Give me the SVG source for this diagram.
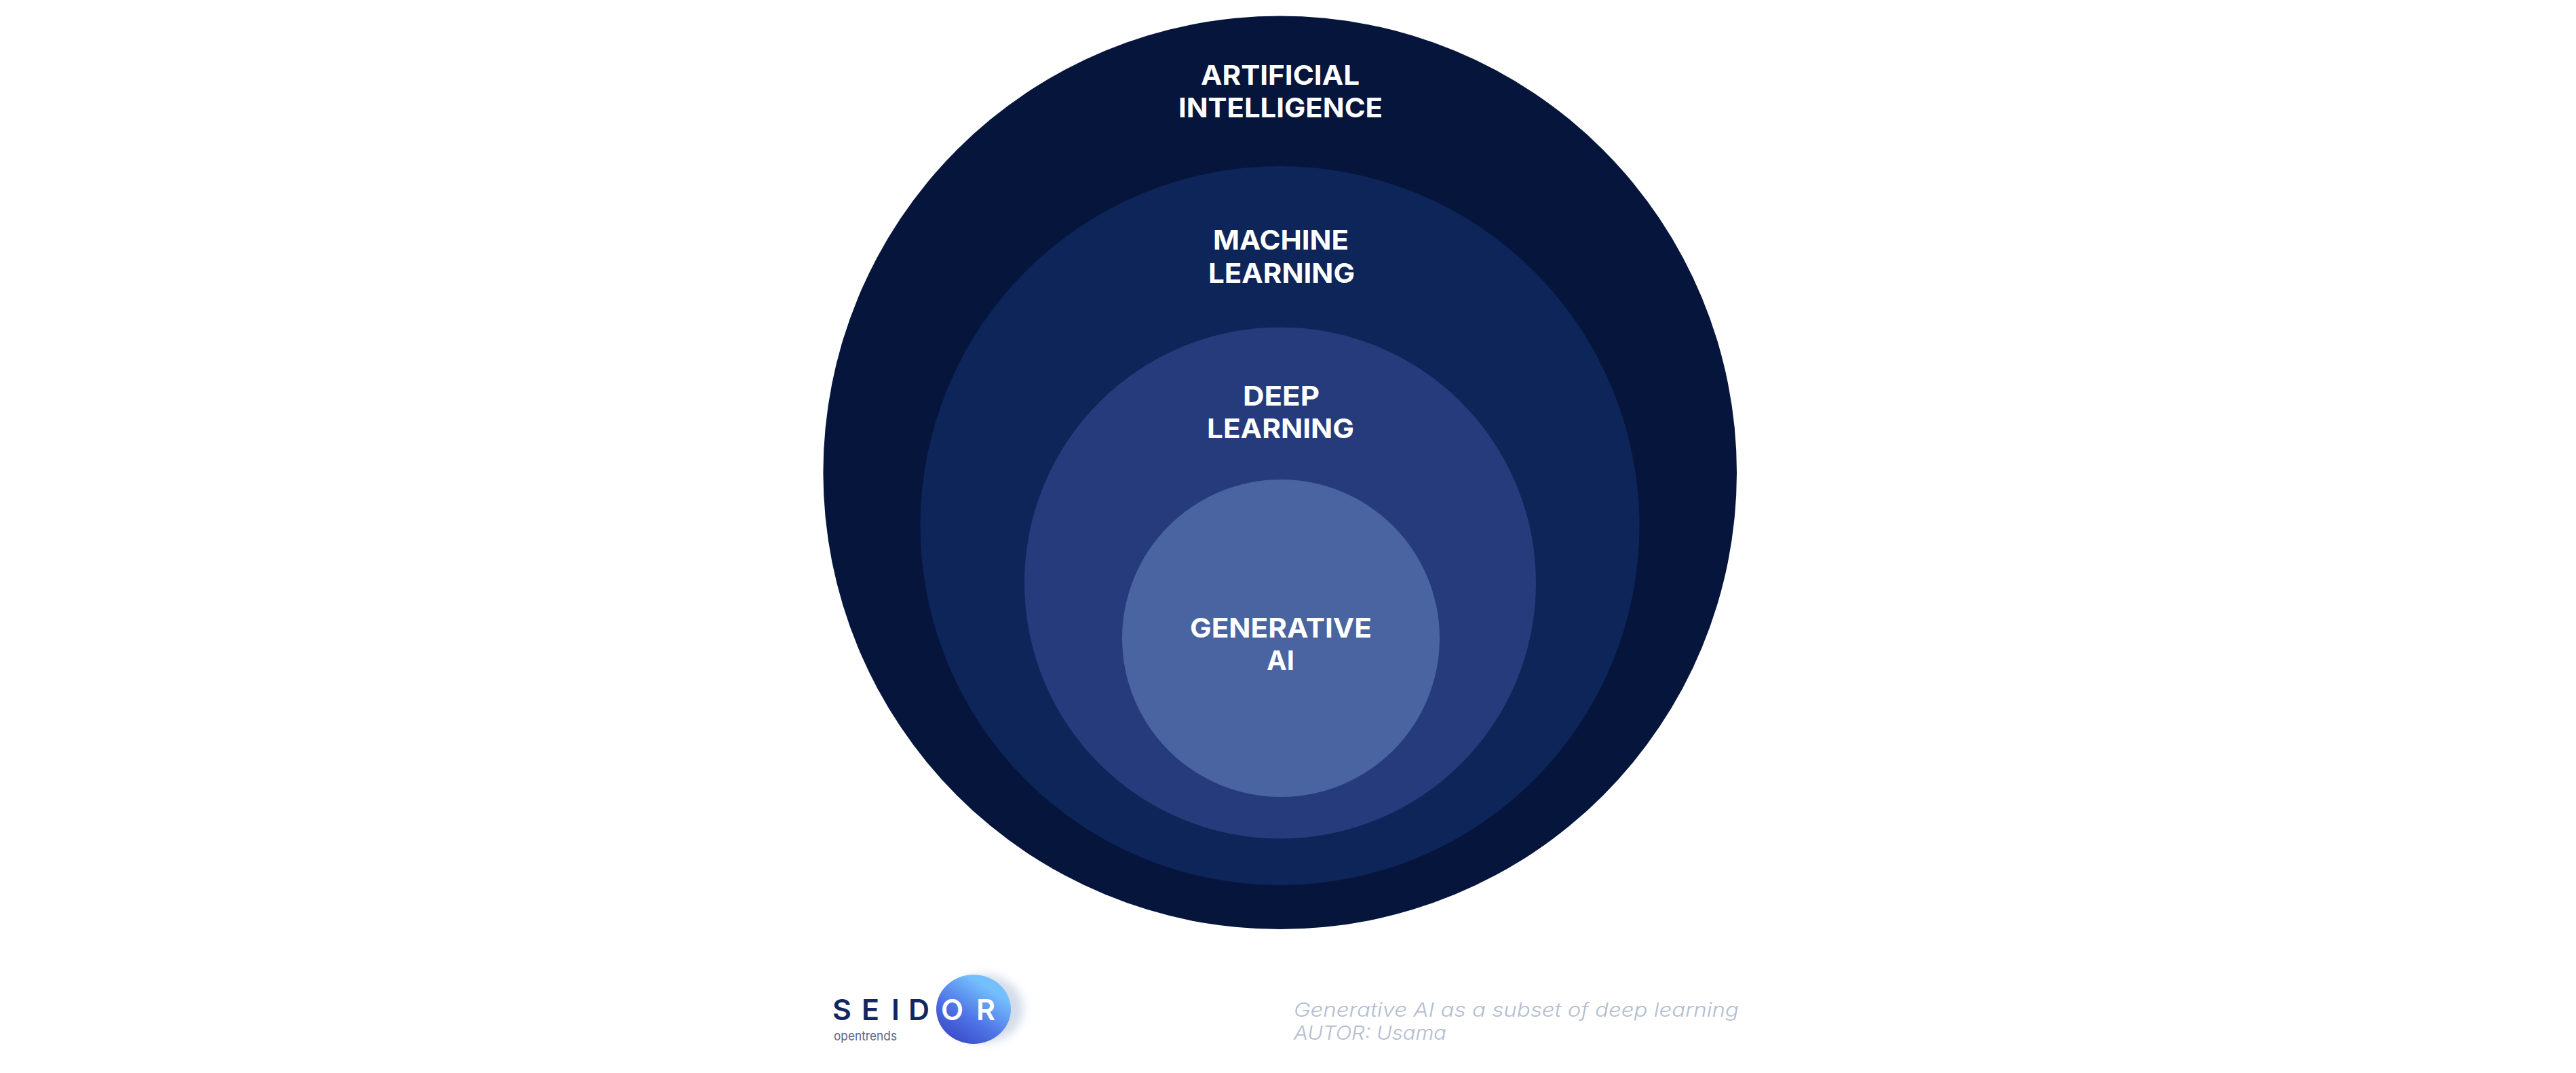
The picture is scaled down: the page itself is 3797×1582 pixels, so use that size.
<svg xmlns="http://www.w3.org/2000/svg" width="3797" height="1582" viewBox="0 0 3797 1582">
  <style>
    .lbl { font-family: "Inter", "Liberation Sans", sans-serif; font-weight: 700; font-size: 40px; fill: #ffffff; }
    .cap { font-family: "Inter", "Liberation Sans", sans-serif; font-style: italic; font-weight: 300; font-size: 28px; fill: #b4bdcf; }
    .logo { font-family: "Inter", "Liberation Sans", sans-serif; font-weight: 600; font-size: 43px; }
    .sub { font-family: "Inter", "Liberation Sans", sans-serif; font-weight: 400; font-size: 19px; fill: #5a668e; }
  </style>
  <defs>
    <linearGradient id="blob" x1="0.2" y1="0.95" x2="0.72" y2="0.2">
      <stop offset="0" stop-color="#3a4bc8"/>
      <stop offset="0.45" stop-color="#4f74e6"/>
      <stop offset="1" stop-color="#74c0fd"/>
    </linearGradient>
    <filter id="soft" x="-30%" y="-30%" width="160%" height="160%">
      <feGaussianBlur stdDeviation="7"/>
    </filter>
  </defs>
  <rect width="3797" height="1582" fill="#ffffff"/>
  <g id="node-artificial-intelligence">
    <circle cx="1886.7" cy="696.8" r="673.3" fill="#06153b"/>
    <text class="lbl" x="1770" y="125" textLength="234" lengthAdjust="spacingAndGlyphs">ARTIFICIAL</text>
    <text class="lbl" x="1737" y="173" textLength="301" lengthAdjust="spacingAndGlyphs">INTELLIGENCE</text>
  </g>
  <g id="node-machine-learning">
    <circle cx="1886.5" cy="775" r="530" fill="#0e2559"/>
    <text class="lbl" x="1788" y="368" textLength="200" lengthAdjust="spacingAndGlyphs">MACHINE</text>
    <text class="lbl" x="1781" y="417" textLength="216" lengthAdjust="spacingAndGlyphs">LEARNING</text>
  </g>
  <g id="node-deep-learning">
    <circle cx="1887" cy="859.5" r="377" fill="#263b7b"/>
    <text class="lbl" x="1832" y="598" textLength="113" lengthAdjust="spacingAndGlyphs">DEEP</text>
    <text class="lbl" x="1779" y="646" textLength="217" lengthAdjust="spacingAndGlyphs">LEARNING</text>
  </g>
  <g id="node-generative-ai">
    <circle cx="1888" cy="941" r="234" fill="#4964a0"/>
    <text class="lbl" x="1754" y="940" textLength="268" lengthAdjust="spacingAndGlyphs">GENERATIVE</text>
    <text class="lbl" x="1867" y="988" textLength="41" lengthAdjust="spacingAndGlyphs">AI</text>
  </g>
  <g id="logo">
    <ellipse cx="1450" cy="1487" rx="58" ry="50" fill="#d3dbe9" filter="url(#soft)"/>
    <ellipse cx="1435" cy="1488" rx="55" ry="51" fill="url(#blob)"/>
    <text class="logo" y="1504" fill="#12275f" x="1227 1270 1314 1339">SEID</text>
    <text class="logo" y="1504" fill="#ffffff" font-weight="700" x="1387 1439">OR</text>
    <text class="sub" x="1229" y="1534" textLength="93" lengthAdjust="spacingAndGlyphs">opentrends</text>
  </g>
  <g id="caption">
    <text class="cap" x="1907" y="1499" textLength="656" lengthAdjust="spacingAndGlyphs">Generative AI as a subset of deep learning</text>
    <text class="cap" x="1907" y="1533" textLength="225" lengthAdjust="spacingAndGlyphs">AUTOR: Usama</text>
  </g>
</svg>
